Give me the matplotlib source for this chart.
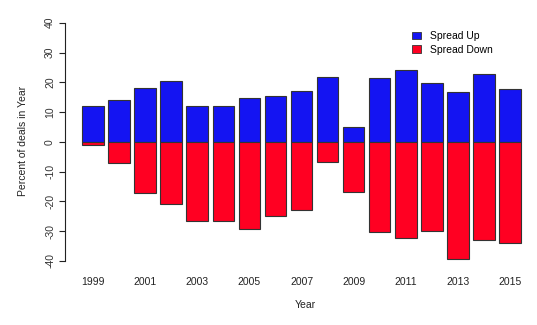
import matplotlib
matplotlib.use("Agg")
import matplotlib.pyplot as plt
from matplotlib.patches import Patch
import numpy as np

years = list(range(1999, 2016))
spread_up = [11.9, 14.0, 18.0, 20.6, 12.1, 12.1, 14.7, 15.4, 17.2, 21.9, 4.9,
             21.4, 24.2, 19.8, 16.8, 22.7, 17.7]
spread_down = [-1.2, -7.0, -17.3, -20.8, -26.7, -26.5, -29.4, -25.0, -23.0, -6.7,
               -16.9, -30.4, -32.2, -29.8, -39.5, -33.0, -34.0]
yticks = [-40, -30, -20, -10, 0, 10, 20, 30, 40]

up_color = "#1414F2"
down_color = "#FF0022"
edge_color = "#333333"

plt.rcParams["font.family"] = ["Liberation Sans", "DejaVu Sans"]

W, H = 537, 325
fig = plt.figure(figsize=(W / 100, H / 100), dpi=100)
left_px, right_px, top_px, bot_px = 64.8, 537, 13.2, 270.5
ax = fig.add_axes([left_px / W, (H - bot_px) / H,
                   (right_px - left_px) / W, (bot_px - top_px) / H])

# R-style barplot positions: width 1, gap 0.2
n = len(years)
lefts = 0.2 + 1.2 * np.arange(n)
centers = lefts + 0.5

ax.bar(centers, spread_up, width=1.0, color=up_color, edgecolor=edge_color, linewidth=0.8)
ax.bar(centers, spread_down, width=1.0, color=down_color, edgecolor=edge_color, linewidth=0.8)

span = lefts[-1] + 1 - lefts[0]
ax.set_xlim(lefts[0] - 0.04 * span, lefts[0] - 0.04 * span + (right_px - left_px) / 21.7)
ax.set_ylim(-43.2, 43.2)

for s in ["top", "right", "bottom"]:
    ax.spines[s].set_visible(False)
ax.spines["left"].set_bounds(-40, 40)
ax.spines["left"].set_color("#222222")
ax.spines["left"].set_linewidth(0.8)

ax.set_yticks(yticks)
ax.set_yticklabels([str(v) for v in yticks], rotation=90, va="center", fontsize=7.5,
                   color="#333333")
ax.tick_params(axis="y", length=4, width=0.8, color="#222222", pad=3)

ax.set_xticks(centers[::2])
ax.set_xticklabels([str(y) for y in years[::2]], fontsize=7.5, color="#222222")
ax.tick_params(axis="x", length=0, pad=5)

fig.text(305 / W, 1 - 305 / H, "Year", ha="center", va="center", fontsize=7.5, color="#222222")
fig.text(23 / W, 1 - 141 / H, "Percent of deals in Year", ha="center", va="center",
         rotation=90, fontsize=7.5, color="#222222")

handles = [Patch(facecolor=up_color, edgecolor=edge_color, linewidth=0.6, label="Spread Up"),
           Patch(facecolor=down_color, edgecolor=edge_color, linewidth=0.6, label="Spread Down")]
fig.legend(handles=handles, loc="upper left", bbox_to_anchor=(410 / W, 1 - 29 / H),
           frameon=False, fontsize=7.5, handlelength=0.9, handleheight=0.7,
           handletextpad=0.8, labelspacing=0.35, borderpad=0.2, borderaxespad=0)

fig.savefig("out.png", dpi=100)
